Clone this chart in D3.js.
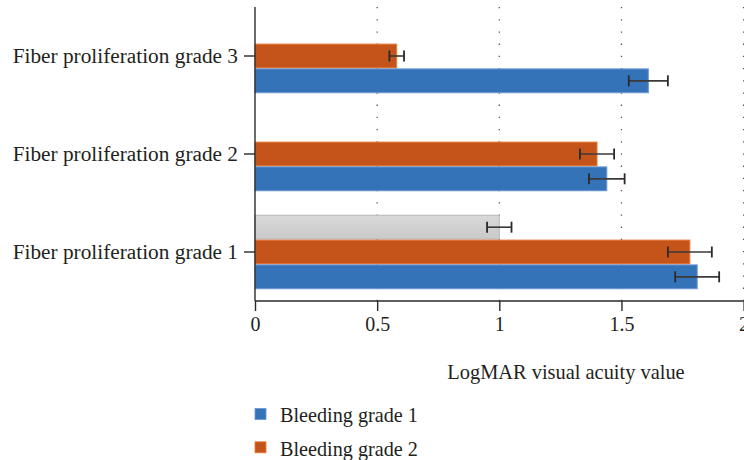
<!DOCTYPE html>
<html>
<head>
<meta charset="utf-8">
<script src="https://cdn.jsdelivr.net/npm/d3@7"></script>
<style>
  html, body { margin: 0; padding: 0; background: #fff; }
  svg { display: block; }
  text { font-family: "Liberation Serif", "DejaVu Serif", serif; fill: #231f20; }
</style>
</head>
<body>
<svg id="chart" width="744" height="460"></svg>
<script>
// Groups, drawn top to bottom
const categories = ["Fiber proliferation grade 3", "Fiber proliferation grade 2", "Fiber proliferation grade 1"];
// Series, in slot order within each group (top slot first)
const seriesNames = ["Bleeding grade 3", "Bleeding grade 2", "Bleeding grade 1"];
// Mean LogMAR values per group (grade 3, grade 2, grade 1)
const bleeding1 = [1.61, 1.44, 1.81];
const bleeding1Err = [0.08, 0.073, 0.09];
const bleeding2 = [0.58, 1.40, 1.78];
const bleeding2Err = [0.03, 0.07, 0.09];
const bleeding3 = [null, null, 1.00];
const bleeding3Err = [null, null, 0.05];
const xTicks = [0, 0.5, 1, 1.5, 2];
const xTickLabels = ["0", "0.5", "1", "1.5", "2"];
const axisTitle = "LogMAR visual acuity value";
const legendItems = ["Bleeding grade 1", "Bleeding grade 2"];

const svg = d3.select("#chart");

const fills = {
  "Bleeding grade 1": "#3573b9",
  "Bleeding grade 2": "#c5541a",
  "Bleeding grade 3": "url(#greyFill)"
};
const strokes = {
  "Bleeding grade 1": "#6a95d3",
  "Bleeding grade 2": "#e97b35",
  "Bleeding grade 3": "#b8b8b8"
};

const defs = svg.append("defs");
const grad = defs.append("linearGradient").attr("id", "greyFill")
  .attr("x1", 0).attr("y1", 0).attr("x2", 0).attr("y2", 1);
grad.append("stop").attr("offset", "0%").attr("stop-color", "#d9d9d9");
grad.append("stop").attr("offset", "100%").attr("stop-color", "#c9c9c9");

const x = d3.scaleLinear().domain([0, 2]).range([255, 743.6]);
const y0 = d3.scaleBand().domain(categories).range([7, 301])
  .paddingInner(0.24).paddingOuter(0.12);
const y1 = d3.scaleBand().domain(seriesNames).range([0, y0.bandwidth()]);

const rows = [];
categories.forEach((c, i) => {
  [[ "Bleeding grade 3", bleeding3, bleeding3Err],
   [ "Bleeding grade 2", bleeding2, bleeding2Err],
   [ "Bleeding grade 1", bleeding1, bleeding1Err]].forEach(([s, vals, errs]) => {
    if (vals[i] != null) rows.push({ cat: c, series: s, value: vals[i], err: errs[i] });
  });
});

// Dotted vertical gridlines
svg.append("g").selectAll("line").data(xTicks.filter(d => d > 0)).join("line")
  .attr("x1", d => x(d)).attr("x2", d => x(d))
  .attr("y1", 7).attr("y2", 301)
  .attr("stroke", "#555").attr("stroke-width", 1.3)
  .attr("stroke-dasharray", "1.3,10.9");

// Bars
svg.append("g").selectAll("rect").data(rows).join("rect")
  .attr("x", x(0))
  .attr("y", d => y0(d.cat) + y1(d.series) + 0.5)
  .attr("width", d => x(d.value) - x(0))
  .attr("height", y1.bandwidth() - 1)
  .attr("fill", d => fills[d.series])
  .attr("stroke", d => strokes[d.series])
  .attr("stroke-width", 1);

// Error bars
const eb = svg.append("g").selectAll("g").data(rows).join("g")
  .attr("transform", d => `translate(0,${y0(d.cat) + y1(d.series) + y1.bandwidth() / 2})`);
eb.append("line")
  .attr("x1", d => x(d.value - d.err)).attr("x2", d => x(d.value + d.err))
  .attr("y1", 0).attr("y2", 0)
  .attr("stroke", "#3a3a3a").attr("stroke-width", 1.6);
eb.selectAll("line.cap").data(d => [d.value - d.err, d.value + d.err]).join("line")
  .attr("class", "cap")
  .attr("x1", v => x(v)).attr("x2", v => x(v))
  .attr("y1", -5.5).attr("y2", 5.5)
  .attr("stroke", "#2a2a2a").attr("stroke-width", 1.8);

// X axis
const xAxis = d3.axisBottom(x).tickValues(xTicks)
  .tickFormat((d, i) => xTickLabels[i]).tickSize(10).tickPadding(6);
const gx = svg.append("g").attr("transform", "translate(0,301)").call(xAxis);
gx.select(".domain").attr("stroke", "#2a2a2a").attr("stroke-width", 1.4)
  .attr("d", `M${x(0)},0H${x(2)}`);
gx.selectAll(".tick line").attr("stroke", "#2a2a2a").attr("stroke-width", 1.4);
gx.selectAll(".tick text").attr("font-size", 20).attr("fill", "#231f20")
  .attr("font-family", "Liberation Serif, DejaVu Serif, serif");

// Y axis
const yAxis = d3.axisLeft(y0).tickSize(11).tickPadding(6);
const gy = svg.append("g").attr("transform", `translate(${x(0)},0)`).call(yAxis);
gy.select(".domain").attr("stroke", "#2a2a2a").attr("stroke-width", 1.4)
  .attr("d", "M0,7V301");
gy.selectAll(".tick line").attr("stroke", "#2a2a2a").attr("stroke-width", 1.4);
gy.selectAll(".tick text").attr("font-size", 21.3).attr("fill", "#231f20")
  .attr("font-family", "Liberation Serif, DejaVu Serif, serif");

// Axis title
svg.append("text")
  .attr("x", 566).attr("y", 379)
  .attr("text-anchor", "middle")
  .attr("font-size", 20.4)
  .text(axisTitle);

// Legend
const lg = svg.append("g").selectAll("g").data(legendItems).join("g")
  .attr("transform", (d, i) => `translate(255,${408.5 + i * 33.3})`);
lg.append("rect").attr("width", 11).attr("height", 11)
  .attr("fill", d => fills[d]).attr("stroke", d => strokes[d]).attr("stroke-width", 0.8);
lg.append("text").attr("x", 25).attr("y", 13.8)
  .attr("font-size", 20.2)
  .text(d => d);
</script>
</body>
</html>
